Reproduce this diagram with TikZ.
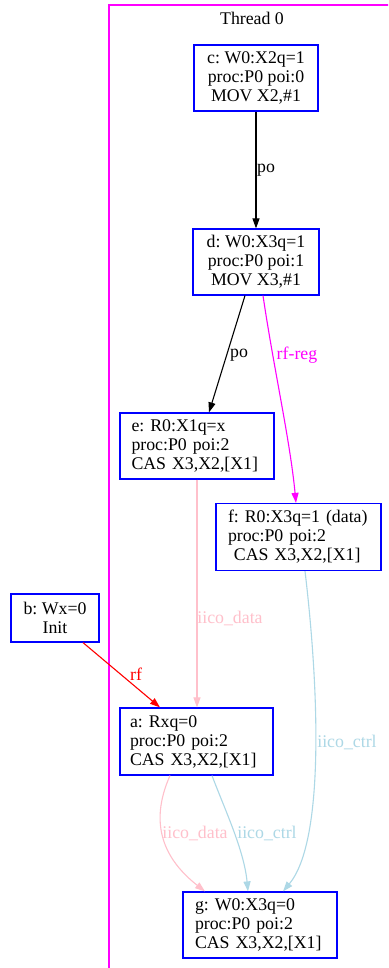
\documentclass[tikz,border=0pt]{standalone}
\usepackage{fontspec}
\setmainfont{Liberation Serif}
\usetikzlibrary{arrows.meta}
\definecolor{iicodata}{RGB}{255,192,203}
\definecolor{iicoctrl}{RGB}{173,216,230}
\definecolor{clustmag}{RGB}{255,0,255}
\definecolor{evblue}{RGB}{0,0,255}
\definecolor{rfred}{RGB}{255,0,0}
\frenchspacing
\begin{document}
\begin{tikzpicture}[x=1pt,y=-1pt,
  every node/.style={font=\fontsize{17.8}{19}\selectfont},
  evt/.style={draw=evblue,line width=1.2pt,fill=white,inner sep=0pt,align=center},
  evtl/.style={evt,align=left},
  lbl/.style={inner sep=0pt},
  edge/.style={line width=1.1pt,-{Triangle[length=10pt,width=7pt]}},
]
\useasboundingbox (0,0) rectangle (388,968);
\fill[white] (0,0) rectangle (388,968);

% thread cluster
\begin{scope}
  \clip (0,0) rectangle (388,968);
  \draw[clustmag,line width=1.2pt] (109,5) rectangle (420,1000);
\end{scope}
\node[lbl] (thr) at (252,18) {Thread 0};

% events
\node[evt,minimum width=124pt,minimum height=66pt] (c) at (256,78)
  {c: W0:X2q=1\\proc:P0 poi:0\\MOV X2,\#1};
\node[evt,minimum width=126pt,minimum height=66pt] (d) at (256,262)
  {d: W0:X3q=1\\proc:P0 poi:1\\MOV X3,\#1};
\node[evtl,text width=131pt,inner xsep=11.5pt,minimum height=66pt] (e) at (197,446)
  {e: R0:X1q=x\\proc:P0 poi:2\\CAS X3,X2,[X1]};
\node[evtl,text width=141pt,inner xsep=12pt,minimum height=67pt] (f) at (298.5,537)
  {f: R0:X3q=1 (data)\\proc:P0 poi:2\\\ CAS X3,X2,[X1]};
\node[evt,minimum width=88pt,minimum height=48pt] (b) at (55,618)
  {b: Wx=0\\Init};
\node[evtl,text width=133pt,inner xsep=10pt,minimum height=67pt] (a) at (196.5,741.5)
  {a: Rxq=0\\proc:P0 poi:2\\CAS X3,X2,[X1]};
\node[evtl,text width=130pt,inner xsep=12pt,minimum height=66pt] (g) at (260,925)
  {g: W0:X3q=0\\proc:P0 poi:2\\CAS X3,X2,[X1]};

% program order
\draw[edge,black] (c.south) -- (d.north);
\node[lbl] (po1) at (266,170) {po};
\draw[edge,black] ([xshift=-11pt]d.south) -- ([xshift=12pt]e.north);
\node[lbl] (po2) at (239,355) {po};

% register read-from
\draw[edge,clustmag] ([xshift=7pt]d.south) .. controls (274,370) and (290,440) .. ([xshift=-2.5pt]f.north);
\node[lbl,text=clustmag] (rfreg) at (297,355) {rf-reg};

% read-from
\draw[edge,rfred] ([xshift=28pt]b.south) -- ([xshift=-36.5pt]a.north);
\node[lbl,text=rfred] (rf) at (136,674) {rf};

% intra-instruction dependencies
\draw[edge,iicodata] (e.south) -- (e.south |- a.north);
\node[lbl,text=iicodata] (idata1) at (230,618) {iico\_data};

\draw[edge,iicoctrl] ([xshift=6.5pt]f.south) .. controls (318,680) and (326,840) .. ([xshift=23pt]g.north);
\node[lbl,text=iicoctrl] (ictrl1) at (347,742) {iico\_ctrl};

\draw[edge,iicodata] ([xshift=-26.5pt]a.south) .. controls (148,825) and (165,860) .. ([xshift=-55pt]g.north);
\node[lbl,text=iicodata] (idata2) at (195,833) {iico\_data};

\draw[edge,iicoctrl] ([xshift=15.5pt]a.south) .. controls (225,810) and (244,850) .. ([xshift=-12pt]g.north);
\node[lbl,text=iicoctrl] (ictrl2) at (267,833) {iico\_ctrl};
\end{tikzpicture}
\end{document}
